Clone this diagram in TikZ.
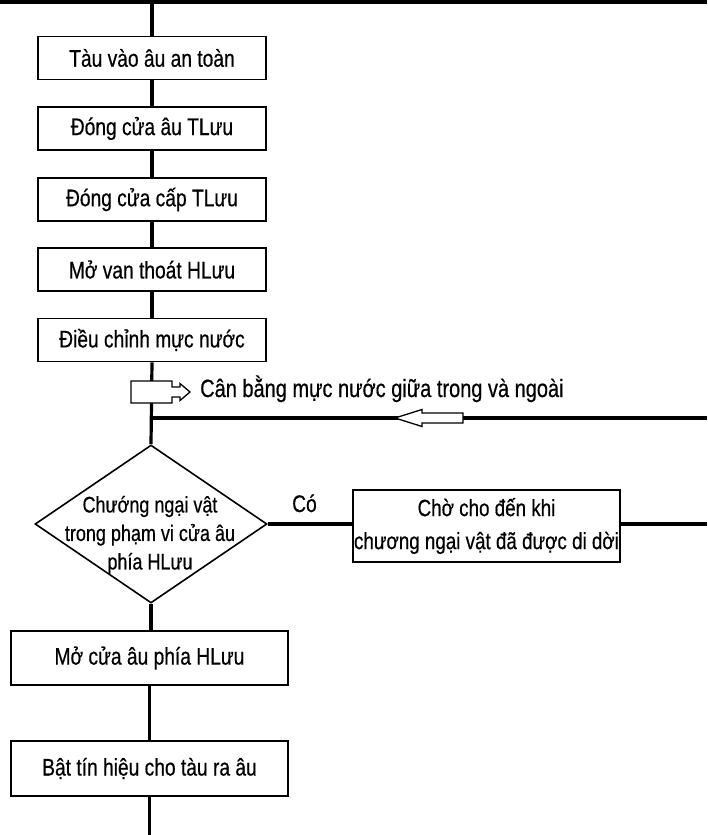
\documentclass[tikz,border=0pt]{standalone}
\usepackage{fontspec}
\setmainfont{Liberation Sans}[FakeStretch=0.8, FakeBold=0.5]
\usetikzlibrary{shapes.geometric}
\begin{document}
\begin{tikzpicture}[x=1pt,y=-1pt,
  conn/.style={line width=3.2pt},
  box/.style={draw, line width=1.6pt, inner sep=0pt, fill=white,
    font=\fontsize{24}{28}\selectfont, align=center},
  lbl/.style={font=\fontsize{24}{28}\selectfont, inner sep=0pt},
  hollow/.style={draw, fill=white, line width=1.3pt, line join=miter}]
\useasboundingbox (0,0) rectangle (707,835);

% nodes
\node[box, minimum width=228pt, minimum height=43pt] (b1) at (152,58) {Tàu vào âu an toàn};
\node[box, minimum width=228pt, minimum height=43pt] (b2) at (152,128.5) {Đóng cửa âu TLưu};
\node[box, minimum width=228pt, minimum height=43pt] (b3) at (152,199.5) {Đóng cửa cấp TLưu};
\node[box, minimum width=228pt, minimum height=43pt] (b4) at (152,269.5) {Mở van thoát HLưu};
\node[box, minimum width=228pt, minimum height=43pt] (b5) at (152,340) {Điều chỉnh mực nước};
\node[draw, diamond, minimum width=232pt, minimum height=158pt, inner sep=0pt, line width=1.6pt] (d) at (151,524) {};
\node[lbl, align=center, font=\fontsize{22.5}{28.5}\selectfont] (dt) at (150,535) {Chướng ngại vật\\trong phạm vi cửa âu\\phía HLưu};
\node[box, minimum width=267pt, minimum height=72pt, font=\fontsize{23.5}{33}\selectfont] (w) at (486.5,526) {Chờ cho đến khi\\chương ngại vật đã được di dời};
\node[box, minimum width=277pt, minimum height=54pt] (b6) at (149.5,658) {Mở cửa âu phía HLưu};
\node[box, minimum width=277pt, minimum height=55pt] (b7) at (149.5,768.5) {Bật tín hiệu cho tàu ra âu};
\node[lbl, anchor=base west] (co) at (292,512) {Có};
\node[lbl, anchor=base west, font=\fontsize{25}{28}\selectfont] (cb) at (200,397) {Cân bằng mực nước giữa trong và ngoài};

% coordinates
\coordinate (tl) at (0,2);
\coordinate (tr) at (707,2);
\coordinate (top) at (152,2);
\coordinate (j) at (152,418);
\coordinate (r1) at (707,418);
\coordinate (r2) at (707,524);
\coordinate (bot) at (149.5,835);

% connectors
\draw[conn] (tl) -- (tr);
\draw[conn] (top) -- (b1.north);
\draw[conn] (b1) -- (b2);
\draw[conn] (b2) -- (b3);
\draw[conn] (b3) -- (b4);
\draw[conn] (b4) -- (b5);
\draw[conn] (b5.south) -- (d.north);
\draw[conn] (j) -- (r1);
\draw[conn] (d.east) -- (d.east -| w.west);
\draw[conn] (w.east |- d.east) -- (r2);
\draw[conn] (d.south) -- (d.south |- b6.north);
\draw[conn] (b6.south) -- (b6.south |- b7.north);
\draw[conn] (b7.south) -- (bot);

% block arrow on main line
\path[hollow] (131,381) -- (172,381) -- (172,387) -- (180,387) -- (180,383.5) -- (190,392)
  -- (180,400.5) -- (180,397) -- (172,397) -- (172,403) -- (131,403) -- cycle;
% hollow arrow on return line
\path[hollow] (395,418) -- (422,409.5) -- (422,413) -- (463,413) -- (463,423) -- (422,423)
  -- (422,426.5) -- cycle;
\end{tikzpicture}
\end{document}
